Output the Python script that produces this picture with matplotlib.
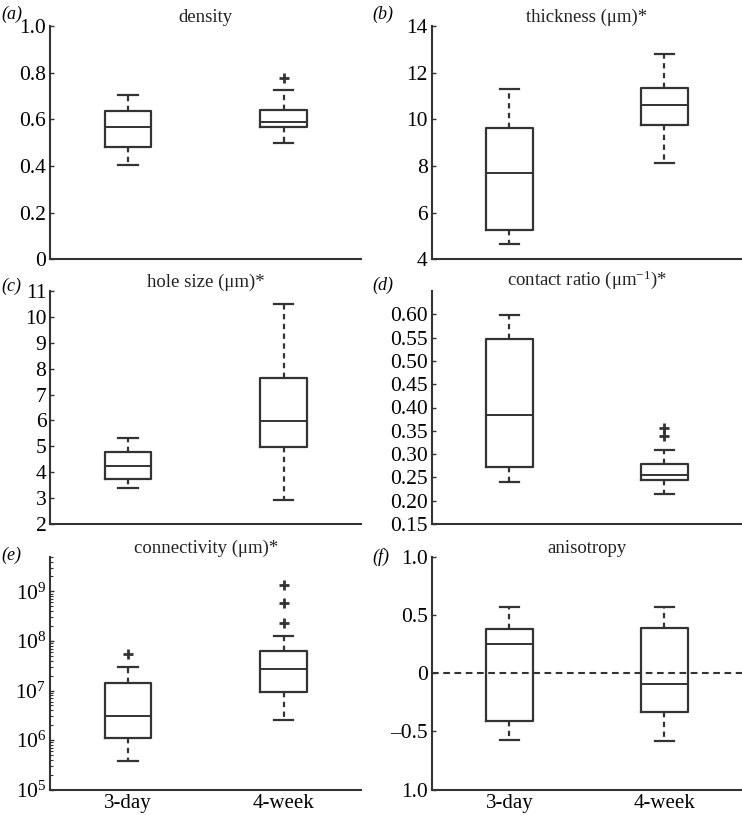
import matplotlib
matplotlib.use("Agg")
import matplotlib.pyplot as plt
from matplotlib.ticker import LogLocator, FixedLocator, NullFormatter

plt.rcParams['font.family'] = ['Liberation Serif', 'DejaVu Serif']
plt.rcParams['mathtext.fontset'] = 'custom'
plt.rcParams['mathtext.rm'] = 'Liberation Serif'
plt.rcParams['mathtext.it'] = 'Liberation Serif:italic'

groups = ['3-day', '4-week']

# (a) density
density_lo = [0.402, 0.500]
density_q1 = [0.480, 0.567]
density_med = [0.568, 0.588]
density_q3 = [0.635, 0.640]
density_hi = [0.704, 0.725]
density_fl = [[], [0.778]]

# (b) thickness
thick_lo = [4.67, 8.13]
thick_q1 = [5.26, 9.74]
thick_med = [7.71, 10.62]
thick_q3 = [9.63, 11.35]
thick_hi = [11.29, 12.81]
thick_fl = [[], []]

# (c) hole size
hole_lo = [3.38, 2.93]
hole_q1 = [3.72, 4.98]
hole_med = [4.25, 5.99]
hole_q3 = [4.79, 7.64]
hole_hi = [5.33, 10.48]
hole_fl = [[], []]

# (d) contact ratio
contact_lo = [0.240, 0.215]
contact_q1 = [0.273, 0.2455]
contact_med = [0.383, 0.2548]
contact_q3 = [0.548, 0.2785]
contact_hi = [0.599, 0.309]
contact_fl = [[], [0.339, 0.357]]

# (e) connectivity
conn_lo = [3.75e5, 2.54e6]
conn_q1 = [1.10e6, 9.25e6]
conn_med = [3.06e6, 2.67e7]
conn_q3 = [1.45e7, 6.27e7]
conn_hi = [3.0e7, 1.26e8]
conn_fl = [[5.45e7], [2.28e8, 5.89e8, 1.34e9]]

# (f) anisotropy
aniso_lo = [-0.569, -0.583]
aniso_q1 = [-0.411, -0.337]
aniso_med = [0.249, -0.094]
aniso_q3 = [0.380, 0.391]
aniso_hi = [0.571, 0.571]
aniso_fl = [[], []]

panels = [
    ('(a)', 'density', density_lo, density_q1, density_med, density_q3, density_hi, density_fl),
    ('(b)', r'thickness (μm)*', thick_lo, thick_q1, thick_med, thick_q3, thick_hi, thick_fl),
    ('(c)', r'hole size (μm)*', hole_lo, hole_q1, hole_med, hole_q3, hole_hi, hole_fl),
    ('(d)', r'contact ratio (μm$^{-1}$)*', contact_lo, contact_q1, contact_med, contact_q3, contact_hi, contact_fl),
    ('(e)', r'connectivity (μm)*', conn_lo, conn_q1, conn_med, conn_q3, conn_hi, conn_fl),
    ('(f)', 'anisotropy', aniso_lo, aniso_q1, aniso_med, aniso_q3, aniso_hi, aniso_fl),
]

col = '#333333'
fig = plt.figure(figsize=(7.42, 8.15), dpi=100)

lefts = [0.068, 0.582]
widths = [0.419, 0.418]
bottoms = [0.682, 0.357, 0.031]
height = 0.286

label_pos = [(0.002, 0.983), (0.502, 0.983), (0.002, 0.649), (0.502, 0.650), (0.002, 0.319), (0.502, 0.316)]

for i, (lab, title, lo, q1, med, q3, hi, fl) in enumerate(panels):
    r, c = divmod(i, 2)
    ax = fig.add_axes([lefts[c], bottoms[r], widths[c], height])
    stats = []
    for k in range(2):
        stats.append(dict(whislo=lo[k], q1=q1[k], med=med[k], q3=q3[k], whishi=hi[k], fliers=fl[k]))
    ax.bxp(stats, positions=[1, 2], widths=0.3, capwidths=0.125, showfliers=True,
           boxprops=dict(color=col, linewidth=1.6),
           medianprops=dict(color=col, linewidth=1.4),
           whiskerprops=dict(color=col, linewidth=1.6, linestyle=(0, (2.4, 2.0))),
           capprops=dict(color=col, linewidth=1.6),
           flierprops=dict(marker='+', markeredgecolor=col, markersize=7, markeredgewidth=2.0))
    ax.set_xlim(0.5, 2.5)
    for s in ['top', 'right']:
        ax.spines[s].set_visible(False)
    for s in ['left', 'bottom']:
        ax.spines[s].set_color(col)
        ax.spines[s].set_linewidth(1.5)
    ax.tick_params(axis='y', direction='in', length=3, width=1.0, color=col, labelsize=15.5, pad=3)
    ax.tick_params(axis='x', length=0, labelsize=15, pad=3)
    ax.set_title(title, fontsize=13.5, pad=2, color='#222222')
    fig.text(label_pos[i][0], label_pos[i][1], lab, fontsize=13, style='italic', va='center', ha='left')

    if r < 2:
        ax.set_xticks([1, 2])
        ax.set_xticklabels(['', ''])
    else:
        ax.set_xticks([1, 2])
        ax.set_xticklabels(groups)

    if i == 0:
        ax.set_ylim(0, 1.0)
        ax.set_yticks([0, 0.2, 0.4, 0.6, 0.8, 1.0])
        ax.set_yticklabels(['0', '0.2', '0.4', '0.6', '0.8', '1.0'])
    elif i == 1:
        ax.set_ylim(4, 14)
        ax.set_yticks([4, 6, 8, 10, 12, 14])
    elif i == 2:
        ax.set_ylim(2, 11)
        ax.set_yticks(list(range(2, 12)))
    elif i == 3:
        ax.set_ylim(0.15, 0.65)
        tv = [0.15, 0.20, 0.25, 0.30, 0.35, 0.40, 0.45, 0.50, 0.55, 0.60]
        ax.set_yticks(tv)
        ax.set_yticklabels(['%.2f' % v for v in tv])
    elif i == 4:
        ax.set_yscale('log')
        ax.set_ylim(1e5, 10 ** 9.7)
        ax.yaxis.set_major_locator(FixedLocator([1e5, 1e6, 1e7, 1e8, 1e9]))
        ax.set_yticklabels([r'$10^{5}$', r'$10^{6}$', r'$10^{7}$', r'$10^{8}$', r'$10^{9}$'])
        ax.yaxis.set_minor_locator(LogLocator(base=10, subs=range(2, 10), numticks=20))
        ax.yaxis.set_minor_formatter(NullFormatter())
        ax.tick_params(axis='y', which='minor', direction='in', length=2, width=0.8, color=col)
    elif i == 5:
        ax.set_ylim(-1, 1)
        ax.set_yticks([-1, -0.5, 0, 0.5, 1])
        ax.set_yticklabels(['1.0', '–0.5', '0', '0.5', '1.0'])
        ax.axhline(0, color=col, linewidth=1.5, linestyle=(0, (3.2, 2.2)), zorder=0)

fig.savefig('out.png', dpi=100)
